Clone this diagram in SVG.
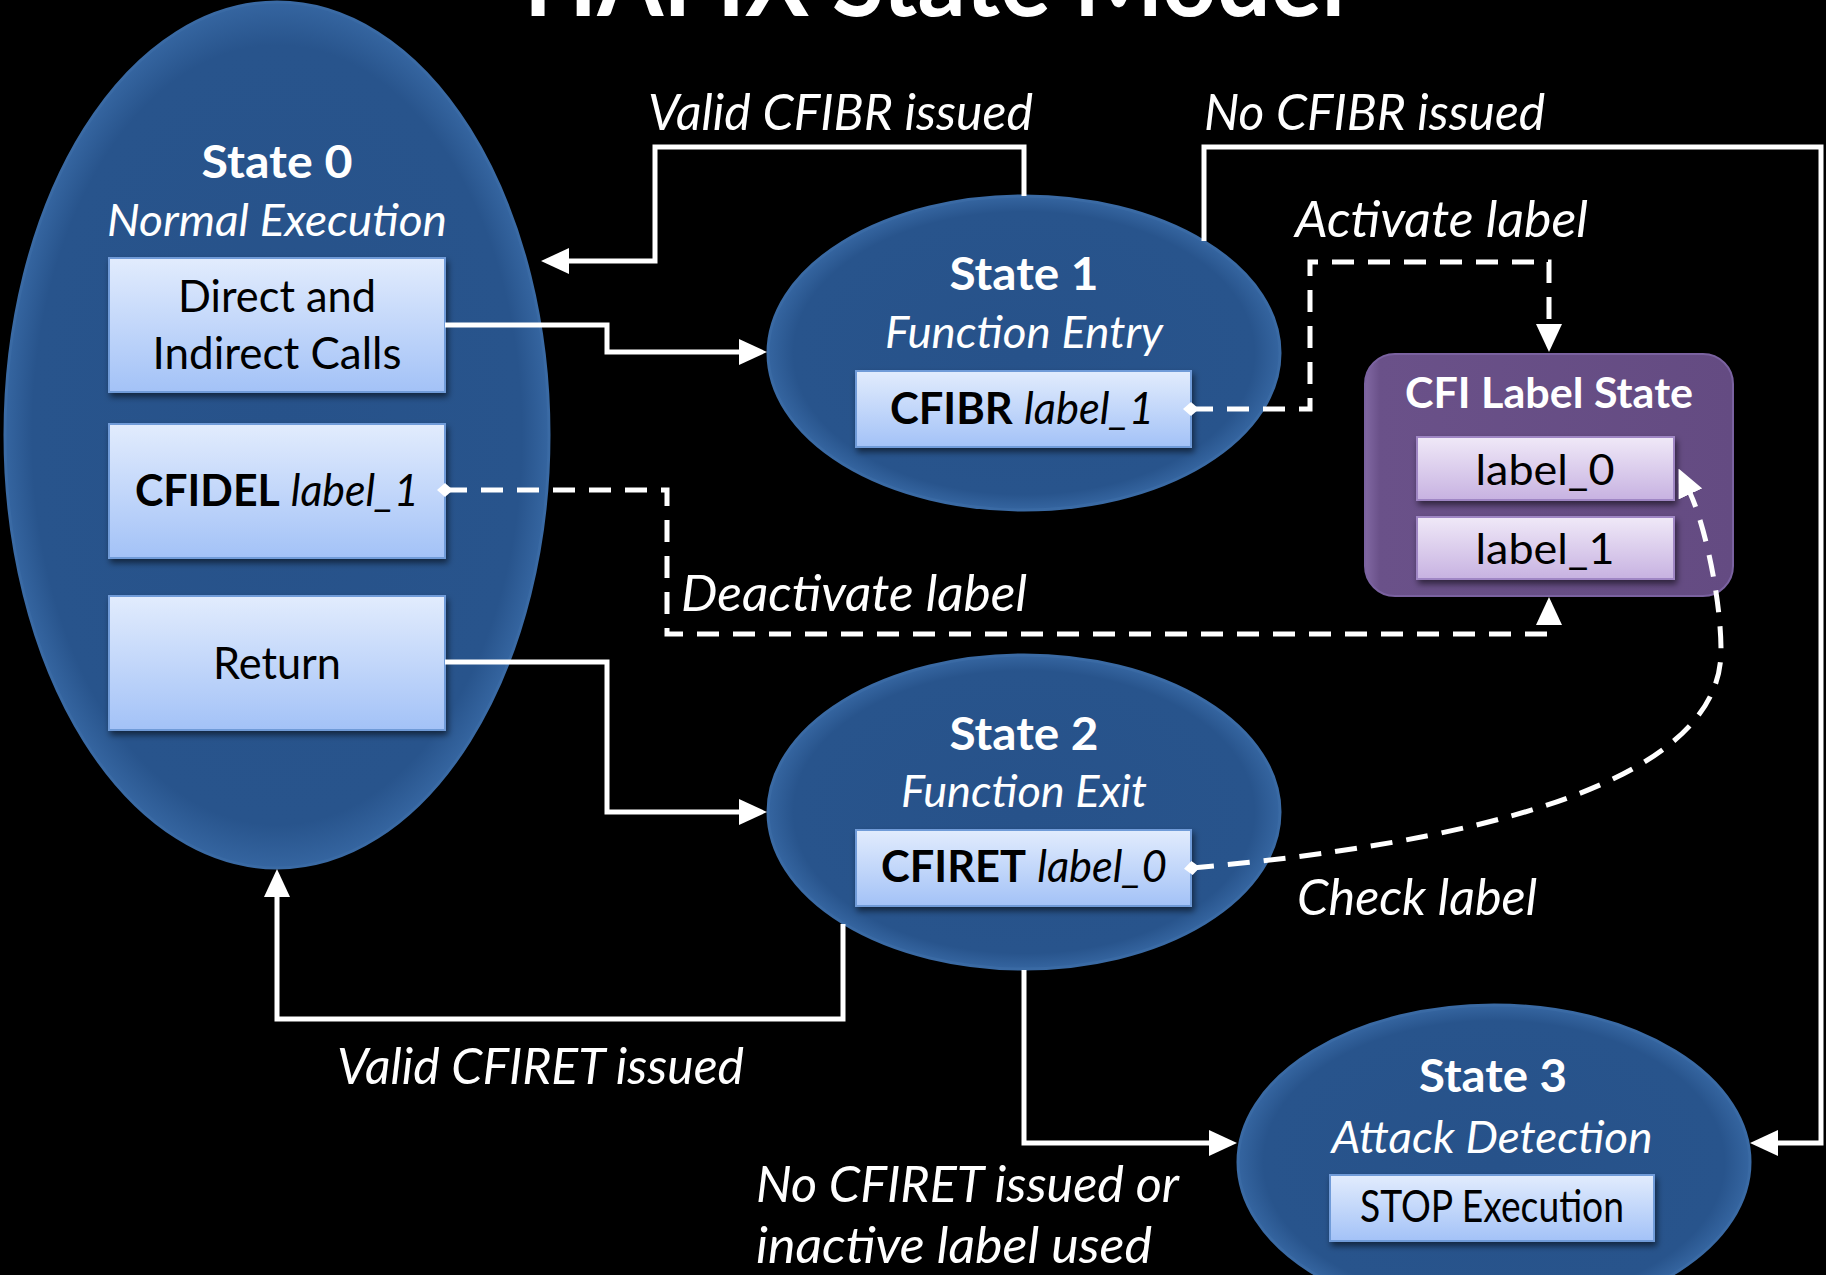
<svg xmlns="http://www.w3.org/2000/svg" width="1826" height="1275" viewBox="0 0 1826 1275">
<style>
  text { font-family: Lato, "Open Sans", "Liberation Sans", sans-serif; }
  .w { fill: #ffffff; }
  .k { fill: #000000; }
  .b { font-weight: 700; }
  .i { font-style: italic; }
  .st { font-size: 46px; font-weight: 700; fill: #ffffff; text-anchor: middle; }
  .sub { font-size: 44px; font-style: italic; fill: #ffffff; text-anchor: middle; }
  .bx { font-size: 44px; fill: #000000; text-anchor: middle; }
  .lbl { font-size: 50px; font-style: italic; fill: #ffffff; }
  .ell { fill: url(#ellG); stroke: #3a6aa4; stroke-width: 3; }
  .box { fill: url(#boxG); stroke: #6f9bd8; stroke-width: 2; filter: url(#sh); }
  .pbox { fill: url(#lblG); stroke: #9f86c4; stroke-width: 2; filter: url(#sh); }
  .solid { fill: none; stroke: #ffffff; stroke-width: 5; stroke-linejoin: miter; }
  .dash { fill: none; stroke: #ffffff; stroke-width: 5; stroke-dasharray: 22 14; }
</style>
<defs>
  <radialGradient id="ellG" cx="50%" cy="50%" r="50%">
    <stop offset="0" stop-color="#27528a"/>
    <stop offset="0.9" stop-color="#28548c"/>
    <stop offset="1" stop-color="#3565a0"/>
  </radialGradient>
  <linearGradient id="boxG" x1="0" y1="0" x2="0" y2="1">
    <stop offset="0" stop-color="#e2ecfd"/>
    <stop offset="1" stop-color="#a3c2f7"/>
  </linearGradient>
  <linearGradient id="lblG" x1="0" y1="0" x2="0" y2="1">
    <stop offset="0" stop-color="#f0e9f8"/>
    <stop offset="1" stop-color="#c7b2e1"/>
  </linearGradient>
  <linearGradient id="cfiG" x1="0" y1="0" x2="1" y2="0">
    <stop offset="0" stop-color="#8168a3"/>
    <stop offset="0.04" stop-color="#6a5189"/>
    <stop offset="1" stop-color="#644b82"/>
  </linearGradient>
  <filter id="sh" x="-10%" y="-10%" width="125%" height="140%">
    <feDropShadow dx="2" dy="4" stdDeviation="3" flood-color="#000000" flood-opacity="0.55"/>
  </filter>
  <marker id="arr" markerUnits="userSpaceOnUse" markerWidth="28" markerHeight="26" refX="1" refY="13" orient="auto">
    <path d="M0,0 L28,13 L0,26 z" fill="#ffffff"/>
  </marker>
  <marker id="dia" markerUnits="userSpaceOnUse" markerWidth="16" markerHeight="14" refX="8" refY="7" orient="auto">
    <path d="M0,7 L8,0 L16,7 L8,14 z" fill="#ffffff"/>
  </marker>
</defs>
<rect x="0" y="0" width="1826" height="1275" fill="#000000"/>

<text x="524" y="16" class="w b" font-size="100" textLength="821" lengthAdjust="spacingAndGlyphs">HAFIX State Model</text>

<g id="state0">
  <ellipse class="ell" cx="277" cy="435" rx="272" ry="433"/>
  <text x="277" y="178" class="st" textLength="151" lengthAdjust="spacingAndGlyphs">State 0</text>
  <text x="277" y="236" class="sub" textLength="340" lengthAdjust="spacingAndGlyphs">Normal Execution</text>
  <g id="calls">
    <rect class="box" x="109" y="258" width="336" height="134"/>
    <text x="277" y="312" class="bx" textLength="198" lengthAdjust="spacingAndGlyphs">Direct and</text>
    <text x="277" y="369" class="bx" textLength="249" lengthAdjust="spacingAndGlyphs">Indirect Calls</text>
  </g>
  <g id="cfidel">
    <rect class="box" x="109" y="424" width="336" height="134"/>
    <text x="277" y="506" class="bx" textLength="284" lengthAdjust="spacingAndGlyphs"><tspan class="b">CFIDEL</tspan> <tspan class="i">label_1</tspan></text>
  </g>
  <g id="return">
    <rect class="box" x="109" y="596" width="336" height="134"/>
    <text x="277" y="679" class="bx" textLength="128" lengthAdjust="spacingAndGlyphs">Return</text>
  </g>
</g>

<g id="state1">
  <ellipse class="ell" cx="1024" cy="353" rx="256" ry="157"/>
  <text x="1024" y="290" class="st" textLength="149" lengthAdjust="spacingAndGlyphs">State 1</text>
  <text x="1024" y="348" class="sub" textLength="278" lengthAdjust="spacingAndGlyphs">Function Entry</text>
  <rect class="box" x="856" y="371" width="335" height="76"/>
  <text x="1022" y="424" class="bx" textLength="264" lengthAdjust="spacingAndGlyphs"><tspan class="b">CFIBR</tspan> <tspan class="i">label_1</tspan></text>
</g>

<g id="state2">
  <ellipse class="ell" cx="1024" cy="812" rx="256" ry="157"/>
  <text x="1024" y="750" class="st" textLength="149" lengthAdjust="spacingAndGlyphs">State 2</text>
  <text x="1024" y="807" class="sub" textLength="246" lengthAdjust="spacingAndGlyphs">Function Exit</text>
  <rect class="box" x="856" y="830" width="335" height="76"/>
  <text x="1024" y="882" class="bx" textLength="286" lengthAdjust="spacingAndGlyphs"><tspan class="b">CFIRET</tspan> <tspan class="i">label_0</tspan></text>
</g>

<g id="state3">
  <ellipse class="ell" cx="1494" cy="1162" rx="256" ry="157"/>
  <text x="1493" y="1092" class="st" textLength="148" lengthAdjust="spacingAndGlyphs">State 3</text>
  <text x="1492" y="1153" class="sub" textLength="321" lengthAdjust="spacingAndGlyphs">Attack Detection</text>
  <rect class="box" x="1330" y="1175" width="324" height="66"/>
  <text x="1492" y="1222" class="bx" font-size="42" textLength="264" lengthAdjust="spacingAndGlyphs">STOP Execution</text>
</g>

<g id="cfi-label-state">
  <rect x="1365" y="354" width="368" height="242" rx="30" ry="30" fill="url(#cfiG)" stroke="#7a62a0" stroke-width="2"/>
  <text x="1549" y="408" class="w b" font-size="42" text-anchor="middle" textLength="288" lengthAdjust="spacingAndGlyphs">CFI Label State</text>
  <g id="label0">
    <rect class="pbox" x="1417" y="437" width="257" height="63"/>
    <text x="1545" y="485" class="k" font-size="42" text-anchor="middle" textLength="139" lengthAdjust="spacingAndGlyphs">label_0</text>
  </g>
  <g id="label1">
    <rect class="pbox" x="1417" y="517" width="257" height="62"/>
    <text x="1545" y="564" class="k" font-size="42" text-anchor="middle" textLength="139" lengthAdjust="spacingAndGlyphs">label_1</text>
  </g>
</g>

<g id="connectors">
  <path class="solid" d="M1024,196 V147 H655 V261 H568" marker-end="url(#arr)"/>
  <path class="solid" d="M445,325 H607 V352 H740" marker-end="url(#arr)"/>
  <path class="solid" d="M445,662 H607 V812 H740" marker-end="url(#arr)"/>
  <path class="solid" d="M843,924 V1019 H277 V896" marker-end="url(#arr)"/>
  <path class="solid" d="M1024,970 V1143 H1210" marker-end="url(#arr)"/>
  <path class="solid" d="M1204,241 V147 H1821 V1143 H1777" marker-end="url(#arr)"/>
  <path class="dash" d="M1191,409 H1310 V262 H1549 V325" marker-start="url(#dia)" marker-end="url(#arr)"/>
  <path class="dash" d="M445,490 H667 V634 H1549 V624" marker-start="url(#dia)" marker-end="url(#arr)"/>
  <path class="dash" d="M1192,868 C1450,845 1722,790 1721,650 C1721,600 1705,525 1690,493" marker-start="url(#dia)" marker-end="url(#arr)"/>

  <text x="648" y="130" class="lbl" textLength="385" lengthAdjust="spacingAndGlyphs">Valid CFIBR issued</text>
  <text x="1204" y="130" class="lbl" textLength="341" lengthAdjust="spacingAndGlyphs">No CFIBR issued</text>
  <text x="1295" y="237" class="lbl" textLength="293" lengthAdjust="spacingAndGlyphs">Activate label</text>
  <text x="681" y="611" class="lbl" textLength="346" lengthAdjust="spacingAndGlyphs">Deactivate label</text>
  <text x="1297" y="915" class="lbl" textLength="240" lengthAdjust="spacingAndGlyphs">Check label</text>
  <text x="337" y="1084" class="lbl" textLength="407" lengthAdjust="spacingAndGlyphs">Valid CFIRET issued</text>
  <text x="756" y="1202" class="lbl" textLength="423" lengthAdjust="spacingAndGlyphs">No CFIRET issued or</text>
  <text x="756" y="1263" class="lbl" textLength="396" lengthAdjust="spacingAndGlyphs">inactive label used</text>
</g>
</svg>
